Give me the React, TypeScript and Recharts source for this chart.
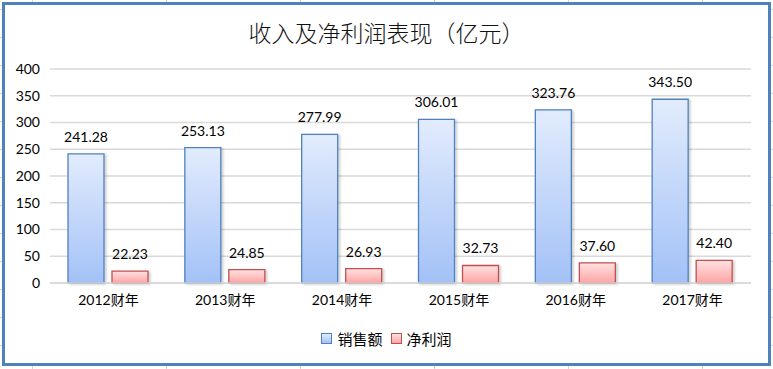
import { BarChart, Bar, XAxis, YAxis, CartesianGrid, LabelList } from 'recharts';

const YEARS = ['2012财年', '2013财年', '2014财年', '2015财年', '2016财年', '2017财年'];
const SALES = [241.28, 253.13, 277.99, 306.01, 323.76, 343.5];
const PROFIT = [22.23, 24.85, 26.93, 32.73, 37.6, 42.4];
const Y_TICKS = [0, 50, 100, 150, 200, 250, 300, 350, 400];

const SERIES = [
  { key: 'sales', name: '销售额', stroke: '#4F81BD', top: '#E2ECFD', bottom: '#A3C1F7', grad: 'salesGrad' },
  { key: 'profit', name: '净利润', stroke: '#C0504D', top: '#FFE2E2', bottom: '#FFA4A4', grad: 'profitGrad' },
];

const data = YEARS.map((year, i) => ({ year, sales: SALES[i], profit: PROFIT[i] }));

const NUM_FONT = 'Lato, "Noto Sans CJK SC", sans-serif';
const CJK_FONT = '"Noto Sans CJK SC", sans-serif';

export default function App() {
  return (
    <div
      style={{
        position: 'absolute',
        left: 0,
        top: 0,
        width: 773,
        height: 369,
        background: '#fff',
        backgroundImage:
          'repeating-linear-gradient(to right, transparent 0 32px, #d4d4d4 32px 33px, transparent 33px 134px), repeating-linear-gradient(to bottom, transparent 0 9px, #d4d4d4 9px 10px, transparent 10px 28px)',
        overflow: 'hidden',
      }}
    >
      <div
        style={{
          position: 'absolute',
          left: 2,
          top: 2,
          width: 769,
          height: 364,
          boxSizing: 'border-box',
          border: '3px solid #4F81BD',
          background: '#fff',
        }}
      />
      <div
        style={{
          position: 'absolute',
          left: 0,
          top: 16,
          width: 773,
          textAlign: 'center',
          fontFamily: CJK_FONT,
          fontSize: 23,
          fontWeight: 300,
          lineHeight: '32px',
          color: '#111',
        }}
      >
        收入及净利润表现（亿元）
      </div>
      <div style={{ position: 'absolute', left: 0, top: 0 }}>
        <BarChart
          width={773}
          height={369}
          data={data}
          margin={{ top: 69, right: 22, bottom: 56, left: 0 }}
          barGap={8}
          barSize={36}
        >
          <defs>
            {SERIES.map(s => (
              <linearGradient key={s.grad} id={s.grad} x1="0" y1="0" x2="0" y2="1">
                <stop offset="0%" stopColor={s.top} />
                <stop offset="100%" stopColor={s.bottom} />
              </linearGradient>
            ))}
            <filter id="barShadow" x="-20%" y="-20%" width="150%" height="150%">
              <feDropShadow dx="2" dy="1" stdDeviation="1.2" floodColor="#000" floodOpacity="0.18" />
            </filter>
          </defs>
          <CartesianGrid vertical={false} stroke="#D9D9D9" strokeWidth={1.3} />
          <XAxis
            dataKey="year"
            axisLine={{ stroke: '#D9D9D9', strokeWidth: 1.3 }}
            tickLine={false}
            tickMargin={6}
            height={30}
            tick={{ fill: '#000', fontSize: 14, fontFamily: NUM_FONT }}
          />
          <YAxis
            domain={[0, 400]}
            ticks={Y_TICKS}
            axisLine={false}
            tickLine={false}
            tickMargin={4}
            width={50}
            tick={{ fill: '#000', fontSize: 14, fontFamily: NUM_FONT }}
          />
          {SERIES.map(s => (
            <Bar
              key={s.key}
              dataKey={s.key}
              name={s.name}
              fill={`url(#${s.grad})`}
              stroke={s.stroke}
              strokeWidth={1.3}
              filter="url(#barShadow)"
              isAnimationActive={false}
            >
              <LabelList
                dataKey={s.key}
                position="top"
                offset={12}
                formatter={(v: number) => v.toFixed(2)}
                style={{ fill: '#000', fontSize: 14, fontFamily: NUM_FONT }}
              />
            </Bar>
          ))}
        </BarChart>
      </div>
      <div
        style={{
          position: 'absolute',
          left: 0,
          top: 328,
          width: 773,
          display: 'flex',
          justifyContent: 'center',
          alignItems: 'center',
          gap: 8,
          fontFamily: CJK_FONT,
          fontSize: 15,
          color: '#000',
        }}
      >
        {SERIES.map(s => (
          <div key={s.key} style={{ display: 'flex', alignItems: 'center', gap: 5 }}>
            <div
              style={{
                width: 9,
                height: 9,
                border: `1px solid ${s.stroke}`,
                background: `linear-gradient(${s.top}, ${s.bottom})`,
              }}
            />
            <span>{s.name}</span>
          </div>
        ))}
      </div>
    </div>
  );
}
